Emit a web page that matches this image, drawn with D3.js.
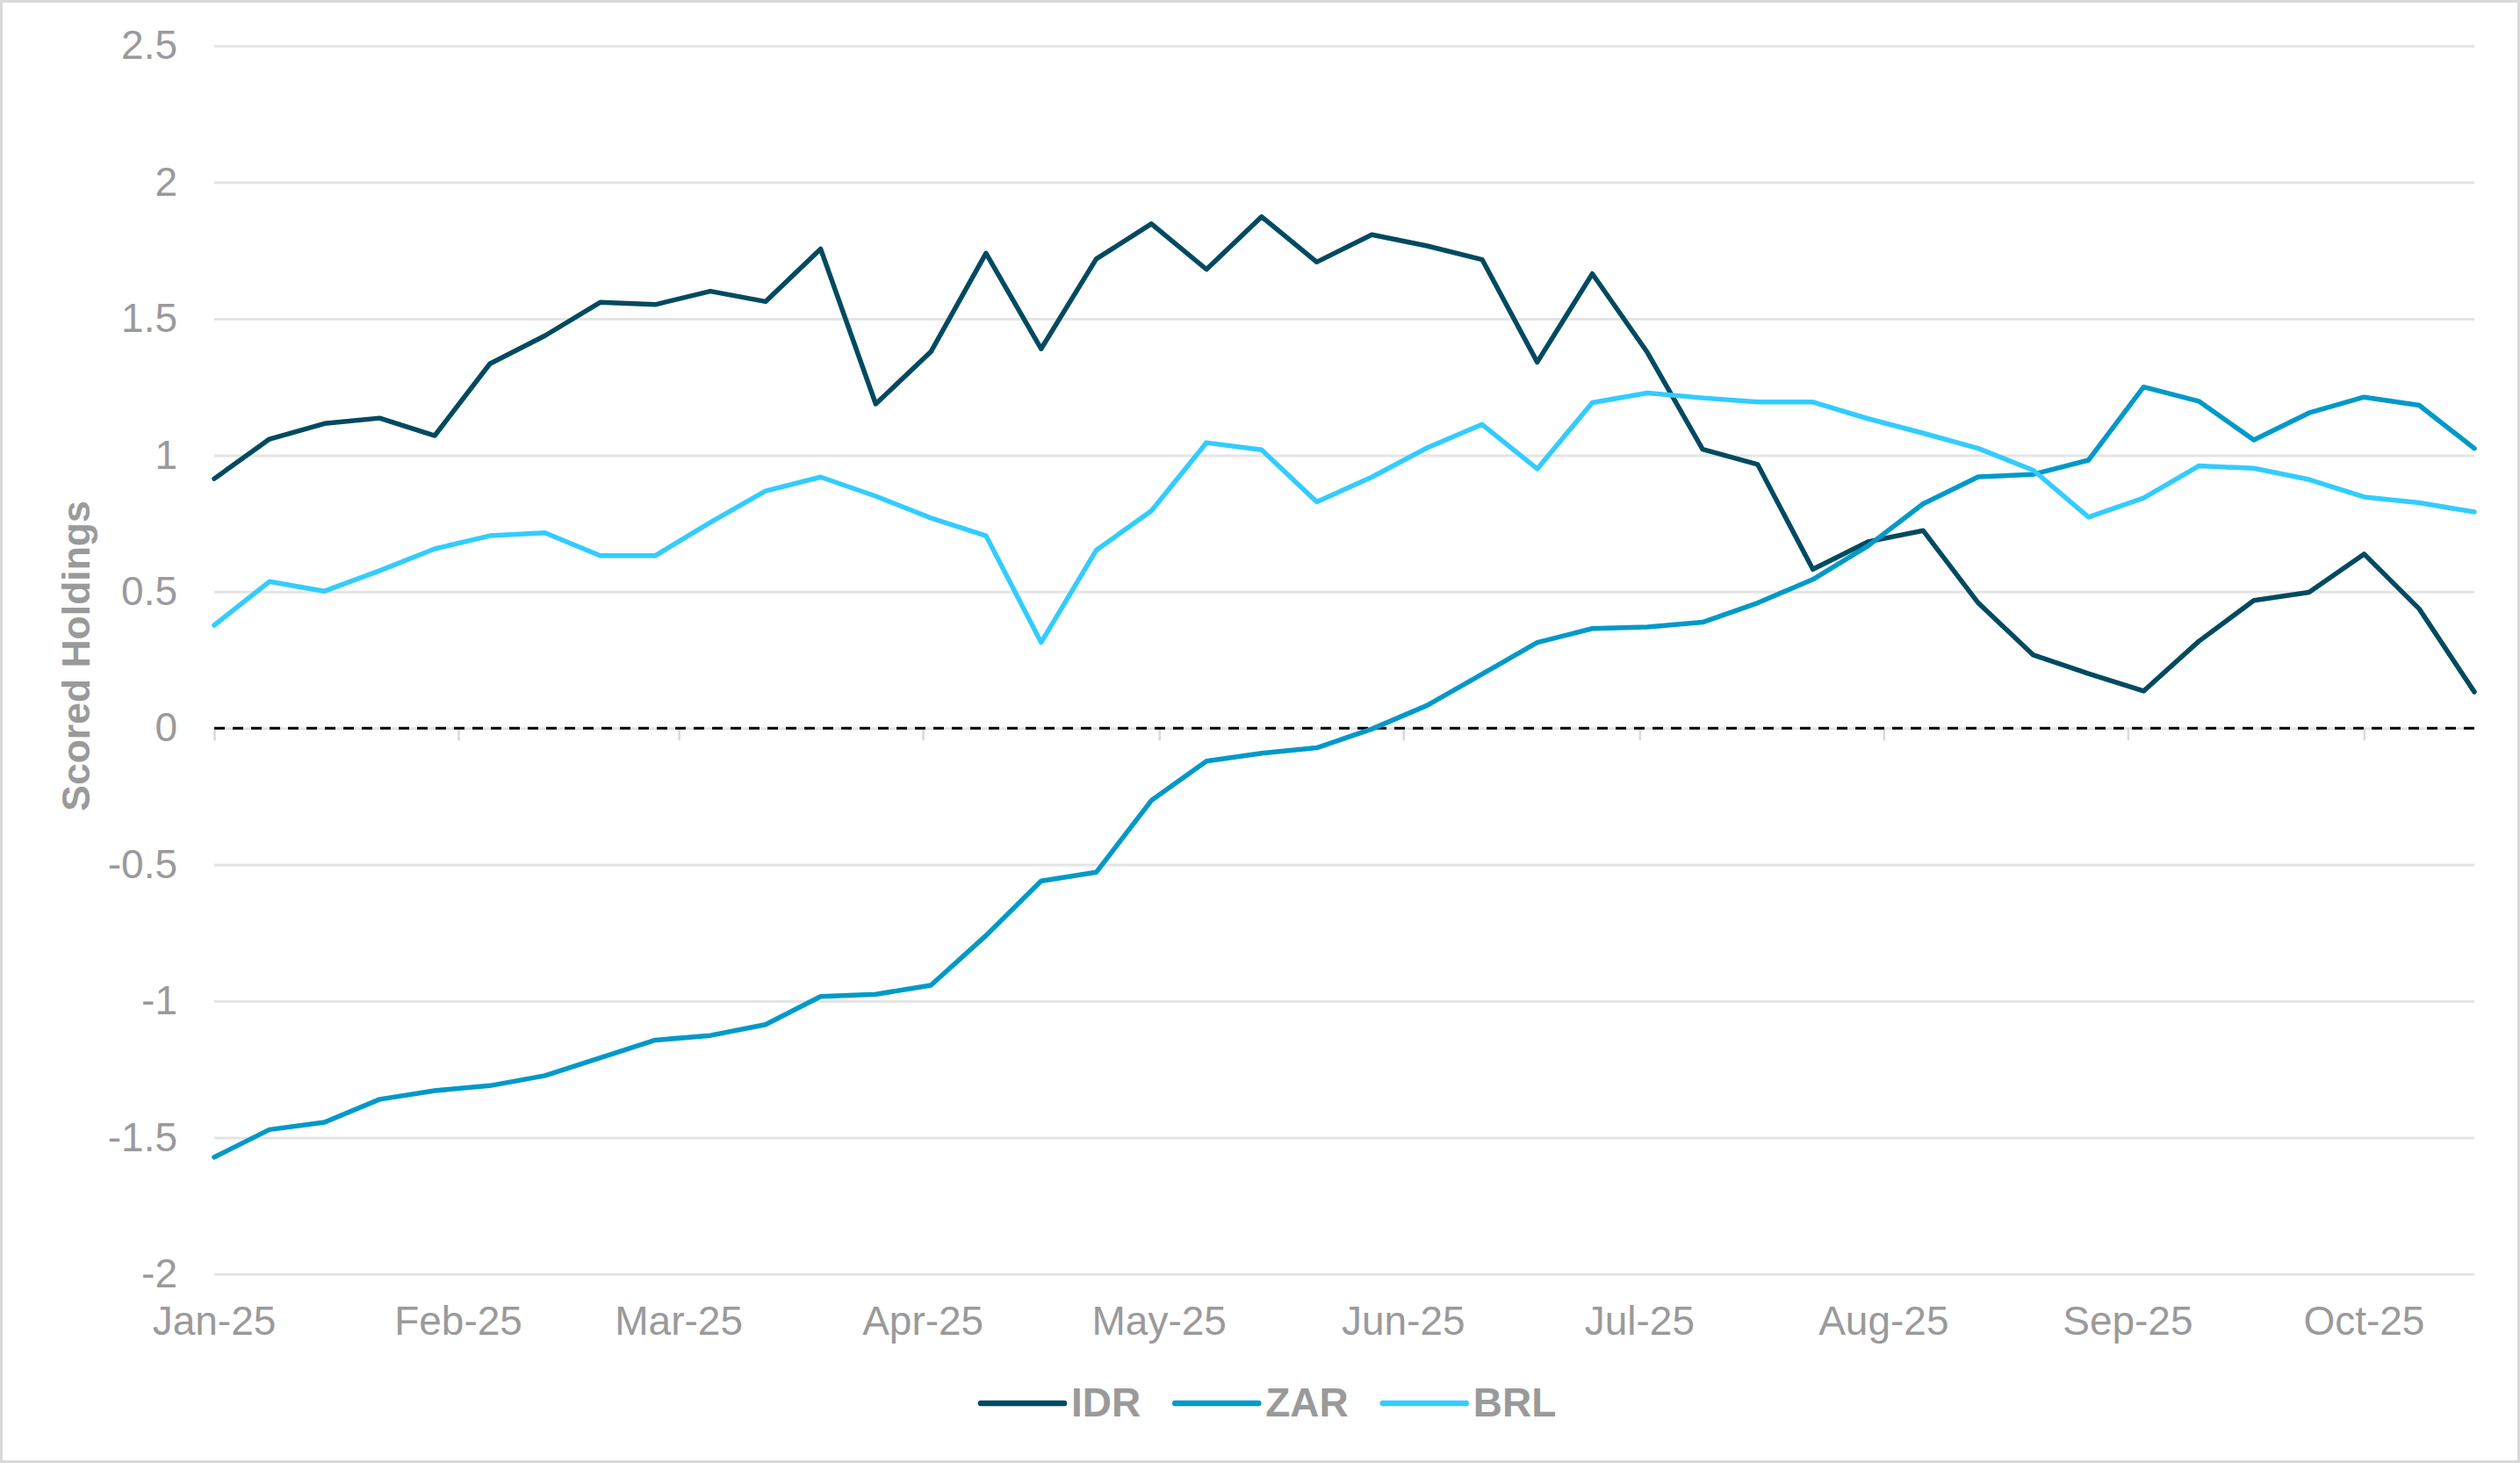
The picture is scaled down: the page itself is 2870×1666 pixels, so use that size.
<!DOCTYPE html>
<html>
<head>
<meta charset="utf-8">
<script src="https://cdn.jsdelivr.net/npm/d3@7"></script>
<style>
  html, body { margin: 0; padding: 0; background: #ffffff; }
  svg { display: block; }
  text { font-family: "Liberation Sans", Arial, sans-serif; }
</style>
</head>
<body>
<svg id="chart" width="2870" height="1666"></svg>
<script>
const dates = [
  "2025-01-01","2025-01-08","2025-01-15","2025-01-22","2025-01-29",
  "2025-02-05","2025-02-12","2025-02-19","2025-02-26",
  "2025-03-05","2025-03-12","2025-03-19","2025-03-26",
  "2025-04-02","2025-04-09","2025-04-16","2025-04-23","2025-04-30",
  "2025-05-07","2025-05-14","2025-05-21","2025-05-28",
  "2025-06-04","2025-06-11","2025-06-18","2025-06-25",
  "2025-07-02","2025-07-09","2025-07-16","2025-07-23","2025-07-30",
  "2025-08-06","2025-08-13","2025-08-20","2025-08-27",
  "2025-09-03","2025-09-10","2025-09-17","2025-09-24",
  "2025-10-01","2025-10-08","2025-10-15"
];

const idr = [0.914,1.059,1.116,1.136,1.072,1.335,1.438,1.560,1.552,1.601,
             1.563,1.756,1.188,1.379,1.740,1.390,1.719,1.848,1.681,1.874,
             1.708,1.808,1.767,1.717,1.341,1.665,1.376,1.022,0.966,0.582,
             0.683,0.724,0.459,0.268,0.200,0.136,0.318,0.468,0.498,0.638,
             0.437,0.133];

const zar = [-1.572,-1.471,-1.444,-1.360,-1.328,-1.310,-1.273,-1.208,-1.143,-1.126,
             -1.086,-0.983,-0.975,-0.942,-0.760,-0.560,-0.528,-0.265,-0.121,-0.092,
             -0.072,-0.003,0.083,0.198,0.314,0.365,0.371,0.388,0.459,0.545,
             0.668,0.822,0.921,0.930,0.982,1.250,1.198,1.056,1.155,1.213,
             1.183,1.025];

const brl = [0.377,0.537,0.502,0.577,0.657,0.705,0.716,0.632,0.632,0.754,
             0.869,0.920,0.850,0.770,0.705,0.314,0.652,0.796,1.046,1.020,
             0.829,0.920,1.027,1.113,0.950,1.193,1.228,1.210,1.195,1.195,
             1.134,1.081,1.025,0.945,0.773,0.843,0.961,0.952,0.911,0.847,
             0.826,0.792];

const seriesNames = ["IDR", "ZAR", "BRL"];
const seriesColors = ["#004a60", "#0099c9", "#33ccff"];

const monthTickDates = ["2025-01-01","2025-02-01","2025-03-01","2025-04-01","2025-05-01",
                        "2025-06-01","2025-07-01","2025-08-01","2025-09-01","2025-10-01"];
const monthTickLabels = ["Jan-25","Feb-25","Mar-25","Apr-25","May-25",
                         "Jun-25","Jul-25","Aug-25","Sep-25","Oct-25"];
const yTicks = [-2,-1.5,-1,-0.5,0,0.5,1,1.5,2,2.5];
const yTitle = "Scored Holdings";

// ---------- layout ----------
const W = 2870, H = 1666;
const plot = { left: 244, right: 2818, top: 52.2, bottom: 1450.8 };
const textGray = "#9a9a9a";
const gridGray = "#e4e4e4";

const parse = d3.utcParse("%Y-%m-%d");
const xDates = dates.map(parse);

const x = d3.scaleUtc()
  .domain([xDates[0], xDates[xDates.length - 1]])
  .range([plot.left, plot.right]);
const y = d3.scaleLinear()
  .domain([-2, 2.5])
  .range([plot.bottom, plot.top]);

const svg = d3.select("#chart");

// background + border
svg.append("rect")
  .attr("x", 1.5).attr("y", 1.5)
  .attr("width", W - 3).attr("height", H - 3)
  .attr("fill", "#ffffff")
  .attr("stroke", "#d9d9d9")
  .attr("stroke-width", 3);

// y axis with gridlines
const yAxis = d3.axisLeft(y)
  .tickValues(yTicks)
  .tickSize(-(plot.right - plot.left))
  .tickPadding(42)
  .tickFormat(d => String(d));

const gy = svg.append("g")
  .attr("transform", `translate(${plot.left},0)`)
  .call(yAxis);
gy.select(".domain").remove();
gy.selectAll(".tick line")
  .attr("stroke", gridGray)
  .attr("stroke-width", 3);
gy.selectAll(".tick text")
  .attr("fill", textGray)
  .attr("font-size", 46)
  .attr("font-family", "'Liberation Sans', Arial, sans-serif");

// month tick marks on the zero line
const xTickAxis = d3.axisBottom(x)
  .tickValues(monthTickDates.map(parse))
  .tickSize(14)
  .tickFormat("");
const gx = svg.append("g")
  .attr("transform", `translate(0,${y(0)})`)
  .call(xTickAxis);
gx.select(".domain").remove();
gx.selectAll(".tick line")
  .attr("stroke", "#d9d9d9")
  .attr("stroke-width", 2.5);

// month labels at bottom
svg.append("g")
  .selectAll("text")
  .data(monthTickDates.map((d, i) => ({ date: parse(d), label: monthTickLabels[i] })))
  .join("text")
  .attr("x", d => x(d.date))
  .attr("y", 1520)
  .attr("text-anchor", "middle")
  .attr("fill", textGray)
  .attr("font-size", 46)
  .text(d => d.label);

// zero dashed line
svg.append("line")
  .attr("x1", plot.left).attr("x2", plot.right)
  .attr("y1", y(0)).attr("y2", y(0))
  .attr("stroke", "#000000")
  .attr("stroke-width", 3)
  .attr("stroke-dasharray", "12,9");

// y-axis title
svg.append("text")
  .attr("transform", `translate(102,747) rotate(-90)`)
  .attr("text-anchor", "middle")
  .attr("fill", textGray)
  .attr("font-size", 44.5)
  .attr("font-weight", "bold")
  .text(yTitle);

// series lines
const seriesData = [idr, zar, brl];
const line = d3.line()
  .x((d, i) => x(xDates[i]))
  .y(d => y(d));

svg.append("g")
  .selectAll("path")
  .data(seriesData)
  .join("path")
  .attr("d", d => line(d))
  .attr("fill", "none")
  .attr("stroke", (d, i) => seriesColors[i])
  .attr("stroke-width", 5.5)
  .attr("stroke-linecap", "round")
  .attr("stroke-linejoin", "round");

// legend
const legendY = 1598;
const legendLine = 95, legendGap = 8, legendSpacing = 39;
const lg = svg.append("g");
const items = lg.selectAll("g")
  .data(seriesNames)
  .join("g");
items.append("line")
  .attr("x1", 0).attr("x2", legendLine)
  .attr("y1", 0).attr("y2", 0)
  .attr("stroke", (d, i) => seriesColors[i])
  .attr("stroke-width", 6.5)
  .attr("stroke-linecap", "round");
items.append("text")
  .attr("x", legendLine + legendGap)
  .attr("y", 15)
  .attr("fill", textGray)
  .attr("font-size", 46)
  .attr("font-weight", "bold")
  .text(d => d);

const widths = [];
items.each(function () {
  const w = legendLine + legendGap + d3.select(this).select("text").node().getComputedTextLength();
  widths.push(w);
});
let startX = 1117;
items.attr("transform", (d, i) => {
  const tx = startX;
  startX += widths[i] + legendSpacing;
  return `translate(${tx},${legendY})`;
});
</script>
</body>
</html>
